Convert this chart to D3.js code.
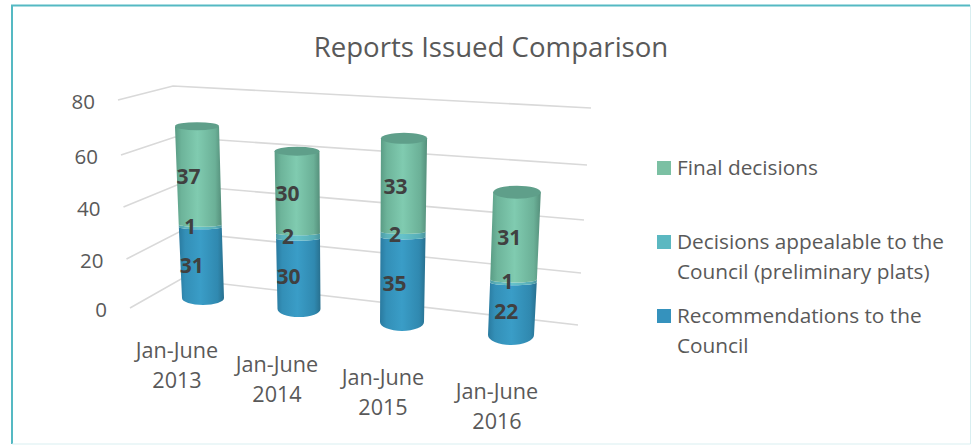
<!DOCTYPE html>
<html>
<head>
<meta charset="utf-8">
<script src="https://cdn.jsdelivr.net/npm/d3@7"></script>
<style>
  html, body { margin: 0; padding: 0; background: #fff; }
  svg { display: block; }
  text { font-family: "Open Sans", sans-serif; }
</style>
</head>
<body>
<div class="chart"></div>
<script>
// chart values
var categories = ["Jan-June 2013", "Jan-June 2014", "Jan-June 2015", "Jan-June 2016"];
var recommendations = [31, 30, 35, 22];
var appealable = [1, 2, 2, 1];
var finalDecisions = [37, 30, 33, 31];
var yTicks = [0, 20, 40, 60, 80];
var seriesNames = ["recommendations", "appealable", "finalDecisions"];
var legendLabels = [
    ["Final decisions"],
    ["Decisions appealable to the", "Council (preliminary plats)"],
    ["Recommendations to the", "Council"]
];

var width = 971, height = 445;

var svg = d3.select(".chart")
    .append("svg")
    .attr("width", width)
    .attr("height", height);

// the 3d view: every scale below stands for one edge of the tilted box
var wallLeftX = d3.scaleLinear().domain(yTicks).range([130, 126.5, 123.5, 121, 118]);
var wallLeftY = d3.scaleLinear().domain(yTicks).range([308, 259, 207, 155, 100]);
var cornerX = d3.scaleLinear().domain(yTicks).range([181, 179, 177, 175, 173]);
var cornerY = d3.scaleLinear().domain(yTicks).range([279, 232, 185, 137, 86]);
var wallRightX = d3.scaleLinear().domain(yTicks).range([578, 581, 584, 587, 591]);
var wallRightY = d3.scaleLinear().domain(yTicks).range([325, 273, 220, 165, 108]);

// one perspective scale per cylinder
var baseX = d3.scaleOrdinal(categories, [203, 299, 402, 511]);
var baseY = d3.scaleOrdinal(categories, [298, 309, 322, 335]);
var riseAt80 = d3.scaleOrdinal(categories, [202.5, 209.5, 213, 221]);
var lean = d3.scaleOrdinal(categories, [-0.087, -0.032, 0.029, 0.111]);
var radius = d3.scaleOrdinal(categories, [21, 21.5, 22, 23]);
var bottomRy = d3.scaleOrdinal(categories, [7, 8, 9, 10]);
var joinRy = d3.scaleOrdinal(categories, [2, 2, 2.5, 3]);
var topRy = d3.scaleOrdinal(categories, [4, 4.5, 5.5, 6.5]);
var labelShift = d3.scaleOrdinal(categories, [-10, -10, -8, -6]);
var catLabelX = d3.scaleOrdinal(categories, [177, 277, 383, 497]);
var catLabelY = d3.scaleOrdinal(categories, [358, 372, 385, 399]);
var rise = d3.scalePow().exponent(1.11).domain([0, 80]).range([0, 1]);

function px(cat, v) { return baseX(cat) + lean(cat) * v; }
function py(cat, v) { return baseY(cat) - riseAt80(cat) * rise(v); }
function rx(cat, v) { return radius(cat) + v * 0.015; }

var table = categories.map(function (c, i) {
    return {
        cat: c,
        recommendations: recommendations[i],
        appealable: appealable[i],
        finalDecisions: finalDecisions[i]
    };
});
var stacked = d3.stack().keys(seriesNames)(table);

// gradients give the round look
var defs = svg.append("defs");
var gradients = {
    recommendations: ["#2a7a9f", "#338fb7", "#3a9dc7", "#3089b0", "#28708f"],
    appealable: ["#4d9ba4", "#5bb2bb", "#66c2ca", "#58aeb7", "#4a949c"],
    finalDecisions: ["#5a9c85", "#6db49a", "#80cbb0", "#6bb097", "#558f7b"]
};
seriesNames.forEach(function (name) {
    var g = defs.append("linearGradient").attr("id", "grad-" + name);
    gradients[name].forEach(function (col, i) {
        g.append("stop")
            .attr("offset", [0, 0.14, 0.48, 0.86, 1][i])
            .attr("stop-color", col);
    });
});

// frame
svg.append("path")
    .attr("d", "M12,444V5.5H970")
    .attr("fill", "none")
    .attr("stroke", "#55b9c3")
    .attr("stroke-width", 2);
svg.append("path")
    .attr("d", "M12,444H970.5V5")
    .attr("fill", "none")
    .attr("stroke", "#d9eff1")
    .attr("stroke-width", 1);

svg.append("text")
    .attr("x", 491)
    .attr("y", 56.5)
    .attr("text-anchor", "middle")
    .attr("font-size", 27.6)
    .attr("fill", "#595959")
    .text("Reports Issued Comparison");

// gridlines on the floor edge and back wall
svg.append("g").selectAll("path")
    .data(yTicks)
    .enter().append("path")
    .attr("d", function (d) {
        return d3.line()([
            [wallLeftX(d), wallLeftY(d)],
            [cornerX(d), cornerY(d)],
            [wallRightX(d), wallRightY(d)]
        ]);
    })
    .attr("fill", "none")
    .attr("stroke", "#d9d9d9")
    .attr("stroke-width", 1.6);

svg.append("g").selectAll("text")
    .data(yTicks)
    .enter().append("text")
    .attr("x", function (d) { return wallLeftX(d) - 23; })
    .attr("y", function (d) { return wallLeftY(d) + 9; })
    .attr("text-anchor", "end")
    .attr("font-size", 20.5)
    .attr("fill", "#595959")
    .text(function (d) { return d; });

// cylinders, bottom segment first so each one overlaps the one below
function segmentPath(cat, v0, v1, first) {
    var r0 = rx(cat, v0), r1 = rx(cat, v1);
    var ry0 = first ? bottomRy(cat) : joinRy(cat);
    return "M" + (px(cat, v0) - r0) + "," + py(cat, v0) +
        "A" + r0 + "," + ry0 + " 0 0 0 " + (px(cat, v0) + r0) + "," + py(cat, v0) +
        "L" + (px(cat, v1) + r1) + "," + py(cat, v1) +
        "A" + r1 + "," + joinRy(cat) + " 0 0 1 " + (px(cat, v1) - r1) + "," + py(cat, v1) + "Z";
}

stacked.forEach(function (layer, k) {
    svg.append("g").selectAll("path")
        .data(layer)
        .enter().append("path")
        .attr("d", function (d) { return segmentPath(d.data.cat, d[0], d[1], k === 0); })
        .attr("fill", "url(#grad-" + layer.key + ")");
});

svg.append("g").selectAll("ellipse")
    .data(stacked[2])
    .enter().append("ellipse")
    .attr("cx", function (d) { return px(d.data.cat, d[1]); })
    .attr("cy", function (d) { return py(d.data.cat, d[1]); })
    .attr("rx", function (d) { return rx(d.data.cat, d[1]); })
    .attr("ry", function (d) { return topRy(d.data.cat); })
    .attr("fill", "#5f9f8a");

// data labels
stacked.forEach(function (layer) {
    svg.append("g").selectAll("text")
        .data(layer)
        .enter().append("text")
        .attr("x", function (d) {
            return px(d.data.cat, (d[0] + d[1]) / 2) + labelShift(d.data.cat);
        })
        .attr("y", function (d) { return py(d.data.cat, (d[0] + d[1]) / 2) + 8; })
        .attr("text-anchor", "middle")
        .attr("font-size", 21)
        .attr("font-weight", 700)
        .attr("fill", "#404040")
        .text(function (d) { return d[1] - d[0]; });
});

// category labels on two lines
var catText = svg.append("g").selectAll("text")
    .data(categories)
    .enter().append("text")
    .attr("text-anchor", "middle")
    .attr("font-size", 21.6)
    .attr("fill", "#595959");
catText.append("tspan")
    .attr("x", function (d) { return catLabelX(d); })
    .attr("y", function (d) { return catLabelY(d); })
    .text(function (d) { return d.split(" ")[0]; });
catText.append("tspan")
    .attr("x", function (d) { return catLabelX(d); })
    .attr("dy", 29.5)
    .text(function (d) { return d.split(" ")[1]; });

// legend
var legendColor = d3.scaleOrdinal([0, 1, 2], ["#7bc0a3", "#5bb8c1", "#3592bd"]);
var legendY = d3.scaleOrdinal([0, 1, 2], [161, 235, 309]);
var legend = svg.append("g").selectAll("g")
    .data(legendLabels)
    .enter().append("g")
    .attr("transform", function (d, i) { return "translate(657," + legendY(i) + ")"; });
legend.append("rect")
    .attr("width", 14)
    .attr("height", 14)
    .attr("fill", function (d, i) { return legendColor(i); });
legend.selectAll("text")
    .data(function (d) { return d; })
    .enter().append("text")
    .attr("x", 20)
    .attr("y", function (d, i) { return 14 + i * 30; })
    .attr("font-size", 20.8)
    .attr("fill", "#595959")
    .text(function (d) { return d; });
</script>
</body>
</html>
